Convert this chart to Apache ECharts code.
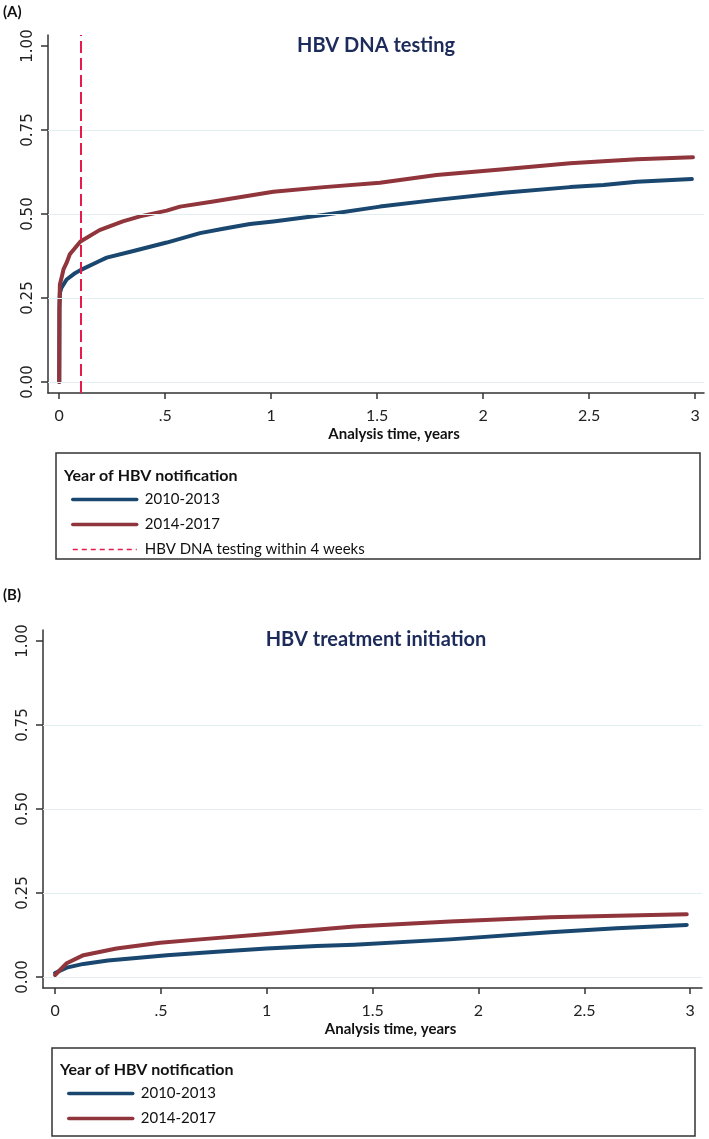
<!DOCTYPE html>
<html>
<head>
<meta charset="utf-8">
<style>
  html, body { margin: 0; padding: 0; background: #fff; }
  #chart { width: 709px; height: 1139px; }
</style>
<script src="https://cdn.jsdelivr.net/npm/echarts@6/dist/echarts.min.js"></script>
</head>
<body>
<div id="chart"></div>
<script>
// ---------- data ----------
const seriesNames = ['2010-2013', '2014-2017'];
const refLineName = 'HBV DNA testing within 4 weeks';
const refLineX = 0.1;

const panelTitles = ['HBV DNA testing', 'HBV treatment initiation'];
const panelLabels = ['(A)', '(B)'];
const xAxisTitle = 'Analysis time, years';
const legendTitle = 'Year of HBV notification';

const xTickValues = [0, 0.5, 1, 1.5, 2, 2.5, 3];
const xTickLabels = ['0', '.5', '1', '1.5', '2', '2.5', '3'];
const yTickValues = [0, 0.25, 0.5, 0.75, 1];
const yTickLabels = ['0.00', '0.25', '0.50', '0.75', '1.00'];
const yGridValues = [0, 0.25, 0.5, 0.75];

// Panel A: HBV DNA testing
const blueA_t = [0, 0.001, 0.003, 0.01, 0.035, 0.07, 0.10, 0.19, 0.224, 0.35, 0.507, 0.664, 0.774, 0.9, 1.01, 1.246, 1.513, 1.78, 2.096, 2.41, 2.568, 2.725, 2.985];
const blueA_v = [0, 0.22, 0.265, 0.28, 0.305, 0.322, 0.333, 0.36, 0.37, 0.39, 0.415, 0.443, 0.456, 0.47, 0.478, 0.497, 0.522, 0.542, 0.563, 0.580, 0.586, 0.596, 0.604];
const redA_t = [0, 0.001, 0.003, 0.011, 0.02, 0.035, 0.05, 0.10, 0.19, 0.3, 0.381, 0.507, 0.57, 0.727, 0.85, 1.01, 1.25, 1.513, 1.78, 2.096, 2.41, 2.725, 2.99];
const redA_v = [0, 0.22, 0.29, 0.31, 0.335, 0.355, 0.38, 0.418, 0.452, 0.478, 0.493, 0.51, 0.522, 0.537, 0.55, 0.566, 0.58, 0.593, 0.616, 0.633, 0.651, 0.663, 0.669];

// Panel B: HBV treatment initiation
const blueB_t = [0, 0.055, 0.134, 0.25, 0.37, 0.528, 0.764, 1.0, 1.236, 1.413, 1.866, 2.338, 2.653, 2.984];
const blueB_v = [0.012, 0.028, 0.039, 0.049, 0.056, 0.065, 0.075, 0.085, 0.092, 0.096, 0.112, 0.133, 0.145, 0.155];
const redB_t = [0, 0.055, 0.134, 0.29, 0.496, 0.685, 1.0, 1.315, 1.413, 1.866, 2.338, 2.653, 2.984];
const redB_v = [0.006, 0.041, 0.065, 0.085, 0.102, 0.112, 0.128, 0.145, 0.15, 0.165, 0.178, 0.182, 0.187];

// ---------- styling ----------
const BLUE = '#1a476f';
const RED = '#90353b';
const DASH = '#e8194c';
const AXIS = '#333333';
const GRIDC = '#e3eef0';
const NAVY = '#1c2b5a';
const FONT = 'Lato';

const Y_MIN = -0.0327, Y_MAX = 1.0327;
const pair = (t, v) => t.map((x, i) => [x, v[i]]);

const grids = [
  { left: 48, top: 35, width: 656, height: 358 },
  { left: 43, top: 630, width: 659, height: 358 }
];
const xRanges = [[-0.053, 3.042], [-0.057, 3.056]];

function xAxisCfg(i) {
  return {
    type: 'value', gridIndex: i, min: xRanges[i][0], max: xRanges[i][1],
    axisLine: { show: true, onZero: false, lineStyle: { color: AXIS, width: 1.5 } },
    axisTick: { show: true, length: 6, customValues: xTickValues, lineStyle: { color: AXIS, width: 1.5 } },
    axisLabel: {
      customValues: xTickValues, margin: 15, color: '#222', fontFamily: FONT, fontSize: 16,
      formatter: v => { const k = xTickValues.findIndex(t => Math.abs(t - v) < 1e-9); return k >= 0 ? xTickLabels[k] : ''; }
    },
    splitLine: { show: false },
    name: xAxisTitle, nameLocation: 'middle', nameGap: 34,
    nameTextStyle: { fontFamily: FONT, fontWeight: 'bold', fontSize: 15, color: '#111', padding: [0, 0, 0, 36] }
  };
}
function yAxisCfg(i) {
  return {
    type: 'value', gridIndex: i, min: Y_MIN, max: Y_MAX,
    axisLine: { show: true, onZero: false, lineStyle: { color: AXIS, width: 1.5 } },
    axisTick: { show: true, length: 7, customValues: yTickValues, lineStyle: { color: AXIS, width: 1.5 } },
    axisLabel: {
      customValues: yTickValues, rotate: 90, margin: 12, color: '#222',
      fontFamily: 'DejaVu Sans', fontSize: 15,
      formatter: v => { const k = yTickValues.findIndex(t => Math.abs(t - v) < 1e-9); return k >= 0 ? yTickLabels[k] : ''; }
    },
    splitLine: { show: false }
  };
}
function gridLines() {
  return {
    silent: true, symbol: 'none', label: { show: false },
    lineStyle: { color: GRIDC, width: 1.2, type: 'solid' },
    data: yGridValues.map(v => ({ yAxis: v }))
  };
}
function curve(name, data, color, i, withGrid) {
  const s = {
    name, type: 'line', xAxisIndex: i, yAxisIndex: i, data,
    showSymbol: false, symbol: 'none', smooth: false,
    lineStyle: { color, width: 4, join: 'round', cap: 'round' }, itemStyle: { color }, z: 3
  };
  if (withGrid) s.markLine = gridLines();
  return s;
}

const graphics = [];
panelLabels.forEach((t, i) => graphics.push({
  type: 'text', x: 3, y: i === 0 ? 12 : 595,
  style: { text: t, fontFamily: FONT, fontWeight: 'bold', fontSize: 15, fill: '#111', textVerticalAlign: 'middle' }
}));
panelTitles.forEach((t, i) => graphics.push({
  type: 'text', x: 376, y: i === 0 ? 46 : 640,
  style: { text: t, fontFamily: FONT, fontWeight: 'bold', fontSize: 20, fill: NAVY, textAlign: 'center', textVerticalAlign: 'middle' }
}));
// legend boxes + titles
[[56, 453, 644, 106, 64, 476], [52, 1048, 643, 88, 60, 1070]].forEach(b => {
  graphics.push({ type: 'rect', shape: { x: b[0], y: b[1], width: b[2], height: b[3] },
    style: { fill: '#fff', stroke: AXIS, lineWidth: 1.5 }, z: -1 });
  graphics.push({ type: 'text', x: b[4], y: b[5],
    style: { text: legendTitle, fontFamily: FONT, fontWeight: 'bold', fontSize: 16, fill: '#111', textVerticalAlign: 'middle' } });
});

const solidItem = name => ({ name, lineStyle: { width: 3.5 } });
const legendBase = {
  orient: 'vertical', itemWidth: 64, itemHeight: 14, itemGap: 10, selectedMode: false,
  itemStyle: { opacity: 0 },
  textStyle: { fontFamily: FONT, fontSize: 15, color: '#111', padding: [0, 0, 0, 3] }
};

const option = {
  backgroundColor: '#fff',
  animation: false,
  grid: grids,
  xAxis: [xAxisCfg(0), xAxisCfg(1)],
  yAxis: [yAxisCfg(0), yAxisCfg(1)],
  legend: [
    Object.assign({}, legendBase, { left: 66, top: 487,
      data: [solidItem(seriesNames[0]), solidItem(seriesNames[1]),
             { name: refLineName, lineStyle: { width: 1.5, type: [5, 4] } }] }),
    Object.assign({}, legendBase, { left: 62, top: 1081,
      data: [solidItem(seriesNames[0]), solidItem(seriesNames[1])] })
  ],
  graphic: graphics,
  series: [
    curve(seriesNames[0], pair(blueA_t, blueA_v), BLUE, 0, true),
    curve(seriesNames[1], pair(redA_t, redA_v), RED, 0, false),
    {
      name: refLineName, type: 'line', xAxisIndex: 0, yAxisIndex: 0, data: [],
      symbol: 'none', lineStyle: { color: DASH, width: 2, type: [12, 5] }, itemStyle: { color: DASH },
      markLine: { silent: true, symbol: 'none', label: { show: false },
        lineStyle: { color: DASH, width: 2, type: [12, 5] }, data: [{ xAxis: refLineX }] }, z: 4
    },
    curve(seriesNames[0], pair(blueB_t, blueB_v), BLUE, 1, true),
    curve(seriesNames[1], pair(redB_t, redB_v), RED, 1, false)
  ]
};

const chart = echarts.init(document.getElementById('chart'), null, { renderer: 'canvas' });
chart.setOption(option);
</script>
</body>
</html>
